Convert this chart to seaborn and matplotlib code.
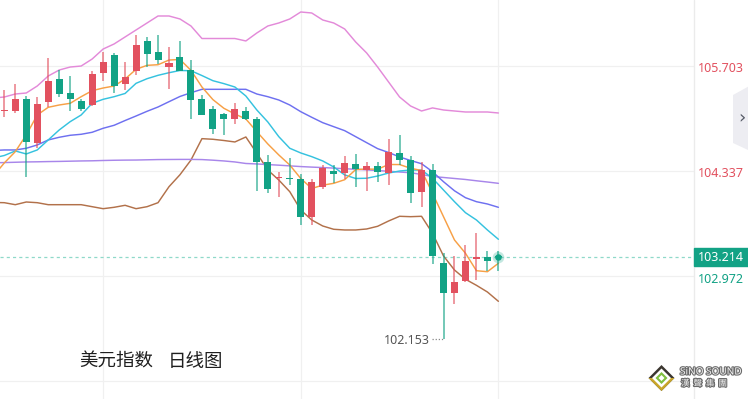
import numpy as np
import pandas as pd
import matplotlib
matplotlib.use("Agg")
import matplotlib.pyplot as plt
import matplotlib.transforms as mtrans
import matplotlib.patheffects as pe
from matplotlib.patches import Polygon, Rectangle
from matplotlib.lines import Line2D
import seaborn as sns

# ---------------- data ----------------
opens = [105.119, 105.122, 105.270, 104.698, 105.231, 105.530, 105.348, 105.252, 105.192, 105.616,
         105.850, 105.469, 105.642, 106.025, 105.882, 105.694, 105.824, 105.647, 105.278, 105.140,
         105.083, 105.018, 105.122, 105.010, 104.455, 104.249, 104.243, 104.233, 103.735, 104.125,
         104.338, 104.315, 104.428, 104.350, 104.402, 104.311, 104.576, 104.480, 104.064, 104.350,
         103.145, 102.746, 102.903, 103.197, 103.223, 103.236]
highs = [105.391, 105.469, 105.317, 105.296, 105.807, 105.651, 105.573, 105.270, 105.638, 105.885,
         105.876, 105.755, 106.103, 106.077, 106.103, 105.955, 106.025, 105.781, 105.330, 105.187,
         105.090, 105.218, 105.170, 105.040, 104.549, 104.324, 104.507, 104.298, 104.233, 104.412,
         104.416, 104.536, 104.555, 104.451, 104.455, 104.750, 104.802, 104.536, 104.455, 104.428,
         103.275, 103.232, 103.371, 103.535, 103.301, 103.301]
lows = [105.044, 105.096, 104.255, 104.637, 105.174, 105.304, 105.122, 105.122, 105.183, 105.512,
        105.356, 105.391, 105.582, 105.687, 105.723, 105.400, 105.634, 105.018, 105.065, 104.823,
        104.810, 104.953, 105.001, 104.077, 104.047, 104.000, 104.155, 103.641, 103.641, 104.107,
        104.181, 104.237, 104.125, 104.077, 104.190, 104.151, 104.412, 103.921, 103.869, 103.128,
        102.153, 102.607, 102.895, 102.919, 103.040, 103.040]
closes = [105.125, 105.270, 104.715, 105.209, 105.504, 105.339, 105.270, 105.148, 105.599, 105.755,
          105.443, 105.556, 105.973, 105.860, 105.781, 105.746, 105.638, 105.257, 105.070, 104.888,
          105.018, 105.140, 105.018, 104.455, 104.099, 104.259, 104.227, 103.735, 104.194, 104.373,
          104.302, 104.445, 104.367, 104.402, 104.324, 104.581, 104.480, 104.055, 104.347, 103.232,
          102.746, 102.893, 103.170, 103.215, 103.163, 103.214]

# indicator lines, starting one bar before the first visible candle
ma5 = [104.272, 104.442, 104.589, 104.806, 105.066, 105.166, 105.196, 105.218, 105.304, 105.382,
       105.417, 105.443, 105.534, 105.660, 105.712, 105.720, 105.781, 105.788, 105.647, 105.430,
       105.266, 105.153, 105.079, 105.014, 104.849, 104.689, 104.546, 104.415, 104.240, 104.110,
       104.153, 104.177, 104.224, 104.356, 104.363, 104.360, 104.422, 104.421, 104.373, 104.344,
       104.047, 103.743, 103.440, 103.267, 103.040, 103.027, 103.137]
ma10 = [104.507, 104.539, 104.598, 104.559, 104.611, 104.741, 104.871, 104.979, 105.066, 105.218,
        105.270, 105.304, 105.346, 105.478, 105.538, 105.582, 105.616, 105.645, 105.642, 105.579,
        105.512, 105.474, 105.430, 105.313, 105.131, 104.975, 104.784, 104.633, 104.572, 104.524,
        104.468, 104.390, 104.286, 104.240, 104.243, 104.272, 104.311, 104.337, 104.350, 104.350,
        104.243, 104.090, 103.938, 103.795, 103.700, 103.570, 103.449]
ma20 = [104.604, 104.611, 104.611, 104.633, 104.676, 104.741, 104.776, 104.802, 104.815, 104.841,
        104.893, 104.932, 104.994, 105.053, 105.114, 105.170, 105.239, 105.307, 105.356, 105.400,
        105.400, 105.400, 105.400, 105.400, 105.339, 105.304, 105.261, 105.196, 105.109, 105.036,
        104.966, 104.914, 104.862, 104.784, 104.706, 104.628, 104.578, 104.520, 104.474, 104.432,
        104.328, 104.198, 104.080, 103.990, 103.938, 103.908, 103.865]
ma60 = [104.444, 104.447, 104.451, 104.455, 104.457, 104.460, 104.462, 104.465, 104.468, 104.470,
        104.474, 104.477, 104.479, 104.480, 104.483, 104.486, 104.487, 104.488, 104.488, 104.486,
        104.478, 104.468, 104.455, 104.435, 104.429, 104.421, 104.413, 104.404, 104.395, 104.388,
        104.382, 104.375, 104.367, 104.360, 104.352, 104.343, 104.334, 104.324, 104.315, 104.292,
        104.266, 104.253, 104.240, 104.227, 104.210, 104.194, 104.177]
boll_up = [105.287, 105.300, 105.339, 105.352, 105.443, 105.573, 105.651, 105.690, 105.703, 105.794,
           105.924, 105.990, 106.081, 106.172, 106.263, 106.354, 106.354, 106.315, 106.224, 106.061,
           106.061, 106.061, 106.061, 106.029, 106.133, 106.224, 106.263, 106.315, 106.406, 106.393,
           106.302, 106.263, 106.185, 106.016, 105.873, 105.690, 105.495, 105.300, 105.183, 105.118,
           105.158, 105.131, 105.118, 105.105, 105.105, 105.105, 105.092]
boll_dn = [103.928, 103.925, 103.899, 103.934, 103.925, 103.899, 103.899, 103.899, 103.899, 103.873,
           103.847, 103.865, 103.891, 103.847, 103.873, 103.925, 104.133, 104.289, 104.480, 104.758,
           104.750, 104.734, 104.715, 104.780, 104.568, 104.350, 104.220, 104.068, 103.830, 103.700,
           103.622, 103.579, 103.570, 103.570, 103.583, 103.618, 103.687, 103.748, 103.743, 103.748,
           103.527, 103.232, 103.049, 102.929, 102.850, 102.763, 102.642]

axis_ticks = [105.703, 104.337, 102.972]
tick_labels = ["105.703", "104.337", "102.972"]
grid_levels = [105.703, 104.337, 102.972, 101.607]
last_price = 103.214
last_label = "103.214"
low_price = 102.153
low_label = "102.153"
title_left = "美元指数"
title_right = "日线图"

# ---------------- style ----------------
sns.set_theme(style="white")
plt.rcParams['font.family'] = ['Noto Sans', 'DejaVu Sans']

RED = "#e2515f"
GREEN = "#12a285"
W, H = 748, 399
PLOT_W = 694

fig = plt.figure(figsize=(W / 100, H / 100), dpi=100)
fig.patch.set_facecolor("white")
ax = fig.add_axes([0, 0, PLOT_W / W, 1])
ax.set_facecolor("white")
for s in ax.spines.values():
    s.set_visible(False)

step = 10.98
x0 = 4.3
ax.set_xlim((0 - x0) / step, (PLOT_W - x0) / step)
ax.set_ylim(101.371, 106.562)
ax.set_xticks([])
ax.set_yticks([])

# grid
for g in grid_levels:
    ax.axhline(g, color="#f0f0f0", lw=0.9, zorder=0)
for gx in [9, 27, 45]:
    ax.axvline(gx, color="#f0f0f0", lw=0.9, zorder=0)

# lines via seaborn
xl = np.arange(-1, len(ma5) - 1)
df = pd.DataFrame({"x": xl, "ma5": ma5, "ma10": ma10, "ma20": ma20, "ma60": ma60,
                   "up": boll_up, "dn": boll_dn})
line_styles = [("up", "#e38ad9"), ("dn", "#b2714a"), ("ma60", "#a886ea"),
               ("ma20", "#6e70f0"), ("ma10", "#35c2df"), ("ma5", "#f7a046")]
for col, c in line_styles:
    sns.lineplot(data=df, x="x", y=col, ax=ax, color=c, lw=1.05, zorder=3, legend=False)
ax.set_xlabel("")
ax.set_ylabel("")
ax.set_xticks([])
ax.set_yticks([])

# candles
o = np.array(opens); c = np.array(closes); hi = np.array(highs); lo = np.array(lows)
xc = np.arange(len(o))
cols = [RED if cc > oo else GREEN for oo, cc in zip(o, c)]
ax.vlines(xc, lo, hi, colors=cols, lw=1.1, alpha=0.75, zorder=4)
body_h = np.maximum(np.abs(c - o), 0.014)
ax.bar(xc, body_h, bottom=np.minimum(o, c), width=0.64, color=cols, linewidth=0, zorder=5)

# last price line & dot
ax.axhline(last_price, color="#8fd9c9", lw=0.9, ls=(0, (2.5, 2.5)), zorder=2)
ax.scatter([xc[-1]], [last_price], s=70, color=GREEN, alpha=0.25, zorder=6, linewidths=0)
ax.scatter([xc[-1]], [last_price], s=22, color=GREEN, zorder=7, linewidths=0)

# low annotation
ax.plot([(432 - x0) / step, (443 - x0) / step], [low_price, low_price], color="#888888",
        lw=0.9, ls=(0, (1, 1.5)), zorder=6)
ax.text((430 - x0) / step, low_price, low_label, ha="right", va="center", fontsize=9,
        color="#555555", zorder=6,
        transform=ax.transData + mtrans.ScaledTranslation(0, -2 / 100, fig.dpi_scale_trans))

# title
ax.text(79 / PLOT_W, 1 - 362 / H, title_left, transform=ax.transAxes, ha="left", va="center",
        fontsize=13.3, color="#1f1f1f", family=["Noto Sans CJK SC", "DejaVu Sans"])
ax.text(168 / PLOT_W, 1 - 362 / H, title_right, transform=ax.transAxes, ha="left", va="center",
        fontsize=13.3, color="#1f1f1f", family=["Noto Sans CJK SC", "DejaVu Sans"])

# right axis
fig.add_artist(Line2D([PLOT_W / W, PLOT_W / W], [0, 1], color="#ebebeb", lw=1.0,
                      transform=fig.transFigure))
blend = mtrans.blended_transform_factory(fig.transFigure, ax.transData)
for v, lab in zip(axis_ticks, tick_labels):
    col = RED if v > last_price else GREEN
    off = -3.5 if v < last_price else -2
    ax.text(698 / W, v, lab, ha="left", va="center", fontsize=9, color=col,
            transform=blend + mtrans.ScaledTranslation(0, off / 100, fig.dpi_scale_trans))
# price tag
yb = ax.transData.transform((0, last_price))[1]
yfig = yb / H
fig.add_artist(Rectangle((PLOT_W / W, yfig - 9 / H), (W - PLOT_W) / W, 18 / H,
                         transform=fig.transFigure, color=GREEN, zorder=10))
fig.text((PLOT_W + 27) / W, yfig, last_label, ha="center", va="center", fontsize=9,
         color="white", zorder=11)

# side button
btn = Polygon([(748 / W, 1 - 86.7 / H), (733 / W, 1 - 95 / H), (733 / W, 1 - 143 / H),
               (748 / W, 1 - 150 / H)], closed=True, transform=fig.transFigure,
              facecolor="#ededf2", edgecolor="none", zorder=10)
fig.add_artist(btn)
fig.text(741.5 / W, 1 - 118 / H, "›", ha="center", va="center", fontsize=13, color="#555a66",
         zorder=11, family="DejaVu Sans")

# logo
cx, cy = 661.5, 378
def dia(r, fc, z):
    p = Polygon([((cx) / W, 1 - (cy - r) / H), ((cx + r) / W, 1 - cy / H),
                 (cx / W, 1 - (cy + r) / H), ((cx - r) / W, 1 - cy / H)],
                closed=True, transform=fig.transFigure, facecolor=fc, edgecolor="none", zorder=z)
    fig.add_artist(p)
dia(13, "#3b3630", 10)
lower = Polygon([((cx - 13) / W, 1 - cy / H), ((cx + 13) / W, 1 - cy / H),
                 (cx / W, 1 - (cy + 13) / H)], closed=True, transform=fig.transFigure,
                facecolor="#c9a62a", edgecolor="none", zorder=10.5)
fig.add_artist(lower)
dia(9.5, "white", 11)
dia(6, "#7fbf3f", 12)
dia(3, "white", 13)
shadow = [pe.withStroke(linewidth=1.6, foreground="#6b6b6b")]
fig.text(680 / W, 1 - 372 / H, "SiNO SOUND", ha="left", va="center", fontsize=7.2,
         fontweight="bold", color="#f2f2f2", path_effects=shadow, zorder=12)
fig.text(681 / W, 1 - 383.5 / H, "漢  聲  集  團", ha="left", va="center", fontsize=6.2,
         color="#f2f2f2", path_effects=shadow, zorder=12,
         family=["Noto Sans CJK TC", "DejaVu Sans"])

fig.savefig("out.png", dpi=100, facecolor="white")
